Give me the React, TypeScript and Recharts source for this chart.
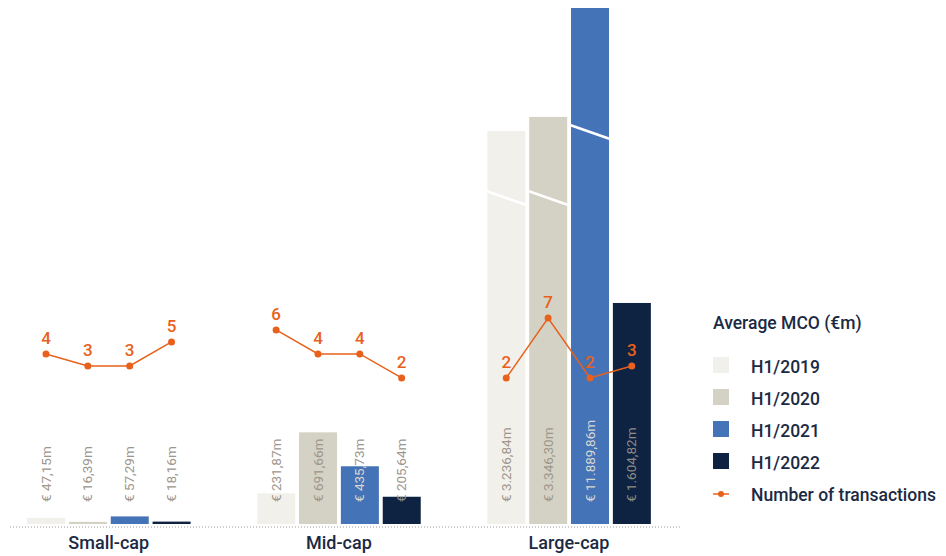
import { ComposedChart, Bar, Line, XAxis, YAxis, Cell, LabelList } from 'recharts';

const segments = ['Small-cap', 'Mid-cap', 'Large-cap'];
const periods = ['H1/2019', 'H1/2020', 'H1/2021', 'H1/2022'];

// average MCO in €m, per period, in segment order
const mco2019 = [47.15, 231.87, 3236.84];
const mco2020 = [16.39, 691.66, 3346.3];
const mco2021 = [57.29, 435.73, 11889.86];
const mco2022 = [18.16, 205.64, 1604.82];

// large-cap bars sit on a broken axis, so these are the heights as drawn (€m units)
const drawn2019 = [47.15, 231.87, 2966];
const drawn2020 = [16.39, 691.66, 3072];
const drawn2021 = [57.29, 435.73, 3894];
const drawn2022 = [18.16, 205.64, 1668];

// level of the break mark on the drawn bar, null = no break
const break2019 = [null, null, 2460];
const break2020 = [null, null, 2460];
const break2021 = [null, null, 2958];
const break2022 = [null, null, null];

// number of transactions
const deals2019 = [4, 6, 2];
const deals2020 = [3, 4, 7];
const deals2021 = [3, 4, 2];
const deals2022 = [5, 2, 3];

const mco = [mco2019, mco2020, mco2021, mco2022];
const drawn = [drawn2019, drawn2020, drawn2021, drawn2022];
const breaks = [break2019, break2020, break2021, break2022];
const deals = [deals2019, deals2020, deals2021, deals2022];

const colors = ['#f2f0ea', '#d4d2c4', '#4573b7', '#0e2241'];
const LABEL = '#9c968c';
const LABEL_ON_BLUE = '#d9d7d1';
const LABEL_ON_NAVY = '#8f8b86';
const ORANGE = '#e8611c';
const NAVY = '#1b2a44';
const FONT = 'Roboto, sans-serif';

const GROUP_STEP = 5.5;

const rows: any[] = [];
segments.forEach((seg, g) => {
  if (g > 0) rows.push({ pos: g * GROUP_STEP - 1.25, drawn: null, deals: null });
  periods.forEach((p, i) => {
    rows.push({
      pos: g * GROUP_STEP + i,
      segment: seg,
      period: i,
      value: mco[i][g],
      drawn: drawn[i][g],
      brk: breaks[i][g],
      deals: deals[i][g],
    });
  });
});

const groupTicks = segments.map((_, g) => g * GROUP_STEP + 1.5);

const fmt = (v: number) => {
  const [int, dec] = v.toFixed(2).split('.');
  return '€ ' + int.replace(/\B(?=(\d{3})+(?!\d))/g, '.') + ',' + dec + 'm';
};

const MCOBar = (props: any) => {
  const { x, y, width, height, payload } = props;
  if (payload == null || payload.drawn == null) return null;
  const base = y + height;
  const cx = x + width / 2;
  const tx = cx + 4.5;
  const ty = base - 22;
  const id = String(payload.pos).replace('.', '_');
  const overColor = payload.period === 2 ? LABEL_ON_BLUE : payload.period === 3 ? LABEL_ON_NAVY : LABEL;
  const label = (fill: string, clip?: string) => (
    <g clipPath={clip}>
      <text
        x={tx}
        y={ty}
        transform={`rotate(-90, ${tx}, ${ty})`}
        textAnchor="start"
        fontSize={13.5}
        fontFamily={FONT}
        fill={fill}
      >
        {fmt(payload.value)}
      </text>
    </g>
  );
  let brk = null;
  if (payload.brk != null) {
    const yb = base - (height * payload.brk) / payload.drawn;
    brk = <line x1={x - 1} y1={yb - 7} x2={x + width + 1} y2={yb + 7} stroke="#fff" strokeWidth={2.5} />;
  }
  return (
    <g>
      <defs>
        <clipPath id={`in-${id}`}>
          <rect x={x - 5} y={y} width={width + 10} height={height} />
        </clipPath>
        <clipPath id={`out-${id}`}>
          <rect x={x - 5} y={0} width={width + 10} height={y} />
        </clipPath>
      </defs>
      <rect x={x} y={y} width={width} height={height} fill={colors[payload.period]} />
      {brk}
      {overColor === LABEL ? (
        label(LABEL)
      ) : (
        <>
          {label(LABEL, `url(#out-${id})`)}
          {label(overColor, `url(#in-${id})`)}
        </>
      )}
    </g>
  );
};

const SegmentTick = ({ x, y, payload }: any) => {
  const idx = groupTicks.indexOf(payload.value);
  return (
    <text x={x} y={y + 22} textAnchor="middle" fontSize={18} fontWeight={500} fontFamily={FONT} fill={NAVY}>
      {segments[idx]}
    </text>
  );
};

function ChartLegend() {
  return (
    <svg width={946} height={556} style={{ position: 'absolute', left: 0, top: 0, pointerEvents: 'none' }}>
      <g fontSize={17.5} fontWeight={500} fontFamily={FONT} fill={NAVY}>
        <text x={713} y={329}>Average MCO (€m)</text>
        {periods.map((p, i) => (
          <g key={p}>
            <rect x={713} y={357 + i * 32} width={16} height={16} fill={colors[i]} />
            <text x={751} y={373 + i * 32}>{p}</text>
          </g>
        ))}
        <line x1={713} y1={494} x2={729} y2={494} stroke={ORANGE} strokeWidth={1.5} />
        <circle cx={721} cy={494} r={3} fill={ORANGE} />
        <text x={751} y={501}>Number of transactions</text>
      </g>
    </svg>
  );
}

export default function App() {
  return (
    <div style={{ position: 'absolute', left: 0, top: 0, width: 946, height: 556, background: '#fff' }}>
      <ComposedChart width={700} height={556} data={rows} margin={{ top: 8, right: 18, left: 10, bottom: 0 }}>
        <XAxis
          type="number"
          dataKey="pos"
          domain={[-0.86, 15.2]}
          ticks={groupTicks}
          tick={<SegmentTick />}
          tickLine={false}
          tickSize={0}
          tickMargin={0}
          height={29}
          axisLine={{ stroke: '#9a9a9a', strokeDasharray: '1 2', strokeWidth: 1 }}
          allowDataOverflow
        />
        <YAxis yAxisId="mco" hide domain={[-22.6, 3894]} allowDataOverflow />
        <YAxis yAxisId="deals" hide orientation="right" domain={[-10.42, 32.83]} allowDataOverflow />
        <Bar yAxisId="mco" dataKey="drawn" barSize={38} shape={<MCOBar />} isAnimationActive={false}>
          {rows.map((r, i) => (
            <Cell key={i} fill={r.period != null ? colors[r.period] : 'none'} />
          ))}
        </Bar>
        <Line
          yAxisId="deals"
          dataKey="deals"
          stroke={ORANGE}
          strokeWidth={1.5}
          dot={{ r: 3.5, fill: ORANGE, stroke: 'none' }}
          activeDot={false}
          connectNulls={false}
          isAnimationActive={false}
        >
          <LabelList
            dataKey="deals"
            position="top"
            offset={10}
            fill={ORANGE}
            fontSize={17}
            fontWeight={500}
            fontFamily={FONT}
          />
        </Line>
      </ComposedChart>
      <ChartLegend />
    </div>
  );
}
